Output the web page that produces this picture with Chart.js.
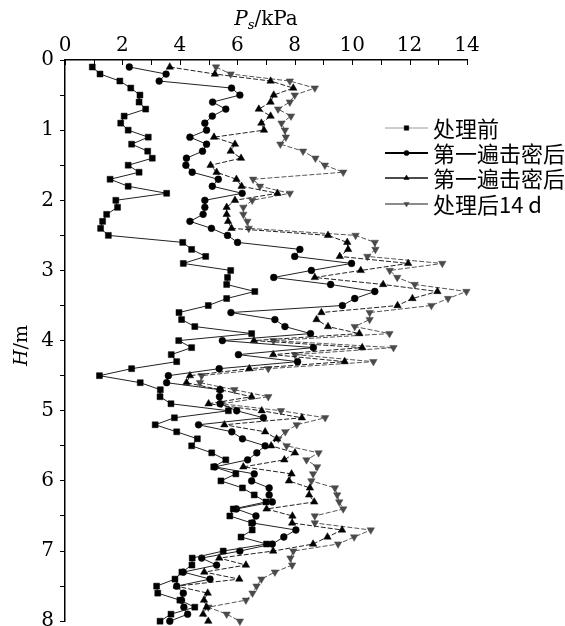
<!DOCTYPE html>
<html><head><meta charset="utf-8">
<script src="https://cdn.jsdelivr.net/npm/chart.js@4/dist/chart.umd.min.js"></script>
<style>html,body{margin:0;padding:0;background:#fff;}#wrap{width:565px;height:626px;position:relative;}</style>
</head><body><div id="wrap"><canvas id="c"></canvas></div>
<script>
// Depth H (m)
const depths = [0.1,0.2,0.3,0.4,0.5,0.6,0.7,0.8,0.9,1.0,1.1,1.2,1.3,1.4,1.5,1.6,1.7,1.8,1.9,2.0,
  2.1,2.2,2.3,2.4,2.5,2.6,2.7,2.8,2.9,3.0,3.1,3.2,3.3,3.4,3.5,3.6,3.7,3.8,3.9,4.0,
  4.1,4.2,4.3,4.4,4.5,4.6,4.7,4.8,4.9,5.0,5.1,5.2,5.3,5.4,5.5,5.6,5.7,5.8,5.9,6.0,
  6.1,6.2,6.3,6.4,6.5,6.6,6.7,6.8,6.9,7.0,7.1,7.2,7.3,7.4,7.5,7.6,7.7,7.8,7.9,8.0];
// Ps (kPa) per series
const beforeTreat = [0.95,1.22,1.91,2.29,2.61,2.58,2.81,2.06,1.94,2.2,2.9,2.32,2.88,3.04,2.2,2.58,1.57,2.2,3.54,1.77,
  1.83,1.45,1.31,1.24,1.51,4.1,4.41,4.9,4.12,5.77,5.66,5.63,6.61,5.63,4.99,3.97,4.06,4.52,6.5,3.96,
  4.41,3.7,3.89,2.32,1.2,2.62,3.32,3.31,3.69,5.69,3.81,3.14,3.89,4.61,4.41,5.11,5.6,5.18,5.95,5.43,
  6.18,6.59,7.0,5.86,5.74,6.5,6.52,6.13,7.02,5.51,4.43,4.42,4.07,3.83,3.19,3.23,4.0,4.52,3.69,3.31];
const firstPassA = [2.24,3.52,3.28,5.8,6.09,5.14,5.6,5.13,4.87,4.93,4.35,4.93,4.79,4.23,4.21,4.43,5.34,5.13,6.17,4.87,
  4.87,4.81,4.35,5.1,5.66,6.01,8.18,8.0,9.98,8.58,7.27,9.25,10.79,10.09,9.66,5.78,7.31,7.66,8.55,5.48,
  8.65,6.04,8.1,5.37,3.6,3.54,5.4,5.38,5.4,5.98,6.91,4.65,5.81,6.18,6.97,6.68,6.36,5.22,6.59,6.5,
  7.11,7.11,7.22,5.97,6.65,6.53,8.04,7.62,7.22,6.09,4.76,5.28,4.12,5.05,3.89,4.12,4.06,4.14,4.27,3.65];
const firstPassB = [3.65,5.22,7.16,7.95,7.27,7.16,6.75,7.16,6.84,6.93,5.19,5.92,5.77,6.13,5.07,5.28,5.97,6.15,7.4,5.92,
  5.63,5.63,5.68,5.8,9.16,9.83,9.86,9.57,11.95,10.3,8.7,11.08,12.97,12.1,11.58,8.93,8.76,9.16,10.25,6.58,
  10.35,7.25,9.74,6.42,4.35,4.23,5.4,6.5,5.0,6.85,8.25,5.55,6.97,7.37,7.18,8.01,7.64,6.21,7.89,7.8,
  8.53,8.5,8.68,7.02,7.92,7.91,9.65,9.14,8.64,7.25,5.37,6.3,4.85,6.07,3.89,4.97,4.84,4.93,4.81,4.99];
const after14d = [5.26,5.77,7.83,8.7,8.0,7.83,7.42,7.87,7.54,7.66,7.69,7.5,8.29,8.72,9.05,9.69,6.55,6.79,7.83,6.52,
  6.21,6.21,6.35,6.4,10.12,10.79,10.81,10.53,13.14,11.31,11.57,12.18,13.98,13.34,12.76,10.61,10.61,10.09,11.3,7.26,
  11.44,8.01,10.74,7.08,4.76,4.7,5.9,7.08,5.45,7.52,9.06,8.07,7.67,7.43,7.72,8.83,8.41,8.78,8.64,8.58,
  9.4,9.48,9.55,9.69,8.7,8.7,10.65,10.07,9.51,7.95,7.85,7.91,7.31,6.84,6.67,6.53,6.3,4.99,5.63,6.09];
const seriesNames = ['处理前','第一遍击密后','第一遍击密后','处理后14 d'];
const xTickLabels = [0,2,4,6,8,10,12,14];
const yTickLabels = [0,1,2,3,4,5,6,7,8];

const pts = arr => arr.map((v,i)=>({x:v,y:depths[i]}));
const styles = [
  {line:'#222',pt:'#000',dash:[],w:1,ps:'rect',r:4.2,rot:0,lg:'#9a9a9a',lw:1,lr:3.2},
  {line:'#222',pt:'#000',dash:[],w:1,ps:'circle',r:3.4,rot:0,lg:'#000',lw:2,lr:2.6},
  {line:'#222',pt:'#000',dash:[5,2],w:1,ps:'triangle',r:4.3,rot:0,lg:'#111',lw:1.5,lr:3},
  {line:'#555',pt:'#4a4a4a',dash:[5,2],w:1,ps:'triangle',r:4.3,rot:180,lg:'#666',lw:1.5,lr:3}
];
const dataArrays=[beforeTreat,firstPassA,firstPassB,after14d];
const datasets = dataArrays.map((a,i)=>({
  label:seriesNames[i], data:pts(a), showLine:true,
  borderColor:styles[i].line, borderWidth:styles[i].w, borderDash:styles[i].dash,
  pointStyle:styles[i].ps, pointRadius:styles[i].r, pointRotation:styles[i].rot,
  pointBackgroundColor:styles[i].pt, pointBorderColor:styles[i].pt, pointBorderWidth:0.5,
  tension:0, clip:false
}));

const serif = "'DejaVu Serif', serif";
const decor = {
  id:'decor',
  afterDraw(chart){
    const ctx=chart.ctx, ca=chart.chartArea, xs=chart.scales.x;
    ctx.save();
    // inward ticks on top axis
    ctx.strokeStyle='#000'; ctx.lineWidth=1;
    for(let v=0; v<=14; v++){
      const px=Math.round(xs.getPixelForValue(v))+0.5;
      ctx.beginPath(); ctx.moveTo(px,ca.top); ctx.lineTo(px,ca.top+5); ctx.stroke();
    }
    // x title: Ps/kPa
    ctx.fillStyle='#000'; ctx.textBaseline='alphabetic';
    const cx=(ca.left+ca.right)/2;
    const f1="italic 20px "+serif, f2="italic 13px "+serif, f3="20px "+serif;
    ctx.font=f1; const wP=ctx.measureText('P').width;
    ctx.font=f2; const wS=ctx.measureText('s').width;
    ctx.font=f3; const wR=ctx.measureText('/kPa').width;
    let sx=cx-(wP+wS+wR)/2, by=25;
    ctx.font=f1; ctx.fillText('P',sx,by); sx+=wP;
    ctx.font=f2; ctx.fillText('s',sx,by+4); sx+=wS;
    ctx.font=f3; ctx.fillText('/kPa',sx,by);
    // y title: H/m
    ctx.save();
    ctx.translate(27, (ca.top+ca.bottom)/2+5);
    ctx.rotate(-Math.PI/2);
    ctx.font="italic 19px "+serif; const wH=ctx.measureText('H').width;
    ctx.font="19px "+serif; const wM=ctx.measureText('/m').width;
    let yx=-(wH+wM)/2;
    ctx.font="italic 19px "+serif; ctx.fillText('H',yx,0);
    ctx.font="19px "+serif; ctx.fillText('/m',yx+wH,0);
    ctx.restore();
    // legend
    const lx0=385, lx1=428, tx=433, rows=[128,153,178,204];
    ctx.font="22px 'Noto Sans CJK SC', sans-serif"; ctx.textBaseline='middle';
    rows.forEach((ry,i)=>{
      const s=styles[i];
      ctx.strokeStyle=s.lg; ctx.lineWidth=s.lw; ctx.setLineDash([]);
      ctx.beginPath(); ctx.moveTo(lx0,ry); ctx.lineTo(lx1,ry); ctx.stroke();
      ctx.fillStyle=s.pt; ctx.strokeStyle=s.pt; ctx.lineWidth=0.5;
      Chart.helpers.drawPoint(ctx,{pointStyle:s.ps,rotation:s.rot,radius:s.lr,borderWidth:0.5},(lx0+lx1)/2,ry);
      ctx.fillStyle='#000';
      ctx.fillText(seriesNames[i],tx,ry+1);
    });
    ctx.restore();
  }
};

new Chart(document.getElementById('c'),{
  type:'scatter',
  data:{datasets},
  options:{
    responsive:true, maintainAspectRatio:false, animation:false, devicePixelRatio:1,
    layout:{padding:{left:0,top:0,right:98,bottom:4}},
    plugins:{legend:{display:false},tooltip:{enabled:false}},
    scales:{
      x:{type:'linear',position:'top',min:0,max:14,
        ticks:{stepSize:1,autoSkip:false,maxRotation:0,color:'#000',font:{family:serif,size:20},padding:2,
          callback:v=>xTickLabels.includes(v)?String(v):''},
        grid:{display:true,drawOnChartArea:false,drawTicks:false},
        border:{display:true,color:'#000',width:1.5},
        afterFit:s=>{s.height=60;s.paddingLeft=0;s.paddingRight=0;}},
      y:{type:'linear',reverse:true,min:0,max:8,
        ticks:{stepSize:0.5,autoSkip:false,color:'#000',font:{family:serif,size:20},padding:6,
          callback:v=>yTickLabels.includes(v)?String(v):''},
        grid:{display:true,drawOnChartArea:false,drawTicks:true,tickLength:5,color:'#000'},
        border:{display:true,color:'#000',width:1.5},
        afterFit:s=>{s.width=65;s.paddingTop=0;s.paddingBottom=0;}}
    }
  },
  plugins:[decor]
});
</script></body></html>
